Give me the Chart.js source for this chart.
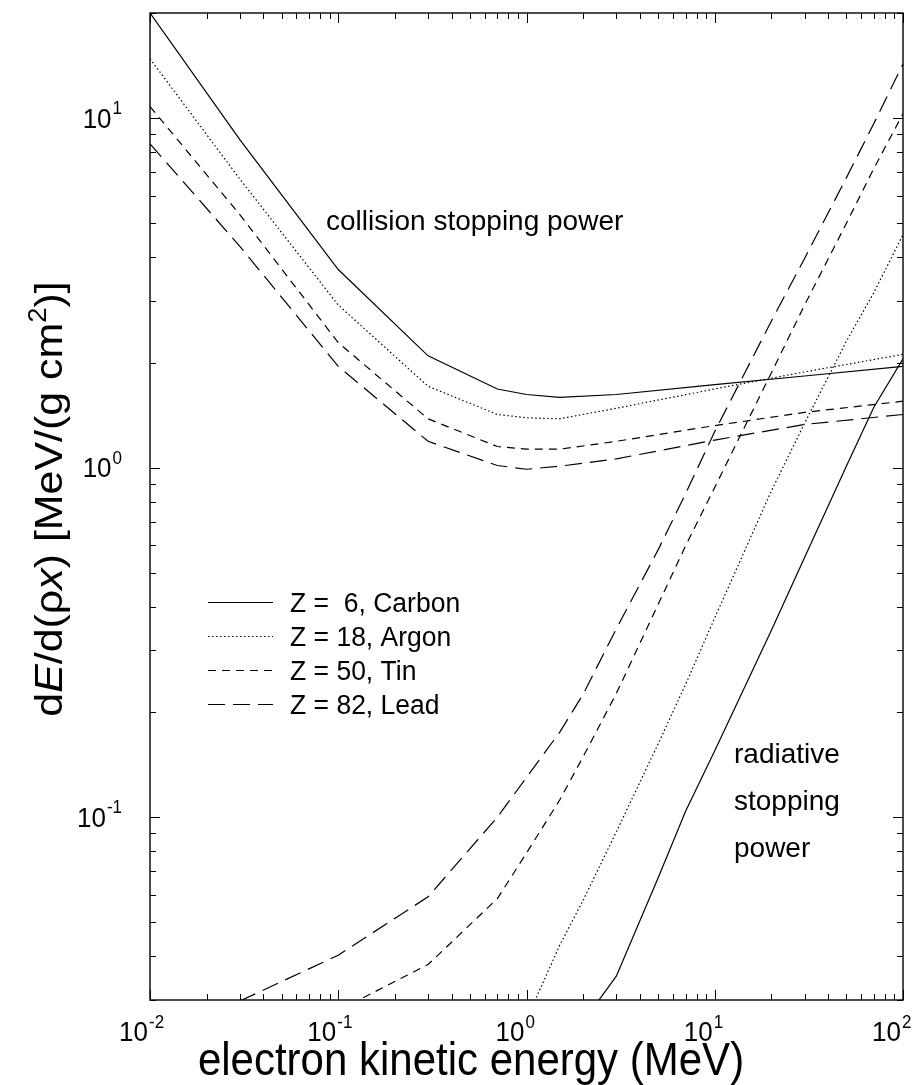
<!DOCTYPE html>
<html>
<head>
<meta charset="utf-8">
<script src="https://cdn.jsdelivr.net/npm/chart.js@4.4.1/dist/chart.umd.min.js"></script>
<style>
  html, body { margin: 0; padding: 0; background: #fff; }
  canvas { display: block; }
</style>
</head>
<body>
<canvas id="chart" width="921" height="1085"></canvas>
<script>
// energies in MeV
var collisionEnergy = [0.01, 0.03, 0.1, 0.3, 0.7, 1, 1.5, 3, 10, 30, 100];
var carbonCollision = [20.0, 8.68, 3.69, 2.09, 1.68, 1.62, 1.59, 1.62, 1.73, 1.83, 1.95];
var argonCollision  = [14.8, 6.7, 2.92, 1.71, 1.42, 1.39, 1.38, 1.48, 1.68, 1.88, 2.11];
var tinCollision    = [10.8, 5.3, 2.28, 1.38, 1.15, 1.13, 1.13, 1.19, 1.32, 1.44, 1.55];
var leadCollision   = [8.45, 4.3, 1.95, 1.19, 1.015, 0.99, 1.01, 1.06, 1.20, 1.33, 1.42];

var radiativeEnergy = [0.03, 0.1, 0.3, 0.7, 1, 1.5, 2, 3, 5, 7, 10, 20, 30, 50, 70, 100];
var carbonRadiative = [null, null, null, null, null, null, 0.026, 0.0351, 0.067, 0.104, 0.155, 0.343, 0.554, 1.01, 1.49, 2.05];
var argonRadiative  = [null, null, null, null, 0.0264, 0.043, 0.0579, 0.0908, 0.162, 0.240, 0.372, 0.859, 1.34, 2.30, 3.17, 4.64];
var tinRadiative    = [null, 0.028, 0.0379, 0.0585, 0.079, 0.112, 0.149, 0.226, 0.406, 0.598, 0.879, 1.87, 2.92, 5.0, 7.18, 10.3];
var leadRadiative   = [0.0298, 0.0403, 0.0592, 0.100, 0.13, 0.175, 0.225, 0.346, 0.582, 0.843, 1.27, 2.63, 3.97, 6.75, 9.66, 14.3];

var legendLabels = ['Z =  6, Carbon', 'Z = 18, Argon', 'Z = 50, Tin', 'Z = 82, Lead'];
var lineDashes = [[], [1.5, 2.5], [8, 6], [17, 8]];
var xDecades = [-2, -1, 0, 1, 2];
var yDecades = [-1, 0, 1];

var FONT = '"Liberation Sans", Arial, Helvetica, sans-serif';

function pairs(xs, ys) {
  return xs.map(function (x, i) { return { x: x, y: ys[i] }; });
}

function curve(xs, ys, idx) {
  return {
    data: pairs(xs, ys),
    borderColor: '#000',
    borderWidth: 1.2,
    borderDash: lineDashes[idx],
    pointRadius: 0,
    tension: 0,
    fill: false
  };
}

function txt(ctx, s, x, y, size, align, stretch) {
  ctx.save();
  ctx.translate(x, y);
  ctx.scale(1, stretch || 1);
  ctx.font = size + 'px ' + FONT;
  ctx.textAlign = align || 'left';
  ctx.textBaseline = 'alphabetic';
  ctx.fillStyle = '#000';
  ctx.fillText(s, 0, 0);
  ctx.restore();
}

function textWidth(ctx, s, size, style) {
  ctx.save();
  ctx.font = (style ? style + ' ' : '') + size + 'px ' + FONT;
  var w = ctx.measureText(s).width;
  ctx.restore();
  return w;
}

var decor = {
  id: 'decor',
  afterDraw: function (chart) {
    var ctx = chart.ctx, a = chart.chartArea;
    var xs = chart.scales.x, ys = chart.scales.y;
    ctx.save();

    // frame
    ctx.strokeStyle = '#000';
    ctx.lineWidth = 1.4;
    ctx.strokeRect(a.left, a.top, a.right - a.left, a.bottom - a.top);

    // inward ticks on all four sides
    ctx.lineWidth = 1;
    ctx.beginPath();
    for (var e = -3; e <= 2; e++) {
      for (var m = 1; m <= 9; m++) {
        var v = m * Math.pow(10, e);
        var len = m === 1 ? 10 : 6;
        if (v >= 0.01 - 1e-9 && v <= 100 + 1e-9) {
          var px = Math.round(xs.getPixelForValue(v)) + 0.5;
          ctx.moveTo(px, a.bottom); ctx.lineTo(px, a.bottom - len);
          ctx.moveTo(px, a.top); ctx.lineTo(px, a.top + len);
        }
        if (v >= 0.03 - 1e-9 && v <= 20 + 1e-9) {
          var py = Math.round(ys.getPixelForValue(v)) + 0.5;
          ctx.moveTo(a.left, py); ctx.lineTo(a.left + len, py);
          ctx.moveTo(a.right, py); ctx.lineTo(a.right - len, py);
        }
      }
    }
    ctx.stroke();

    // x tick labels 10^n
    xDecades.forEach(function (d) {
      var px = xs.getPixelForValue(Math.pow(10, d));
      txt(ctx, '10', px - 2, 1041, 26, 'right', 1.05);
      txt(ctx, String(d), px - 1, 1028, 17, 'left', 1.05);
    });
    // y tick labels
    yDecades.forEach(function (d) {
      var py = ys.getPixelForValue(Math.pow(10, d));
      var sw = textWidth(ctx, String(d), 17);
      txt(ctx, String(d), 122, py - 4, 17, 'right', 1.05);
      txt(ctx, '10', 122 - sw - 1, py + 9.5, 26, 'right', 1.05);
    });

    // axis titles
    txt(ctx, 'electron kinetic energy (MeV)', 471, 1075, 42, 'center', 1.08);

    var parts = [
      { t: 'd' }, { t: 'E', st: 'italic' }, { t: '/d(\u03c1' }, { t: 'x', st: 'italic' },
      { t: ') [MeV/(g cm' }, { t: '2', sup: true }, { t: ')]' }
    ];
    var big = 39, small = 25, total = 0;
    parts.forEach(function (p) {
      p.w = textWidth(ctx, p.t, p.sup ? small : big, p.st);
      total += p.w;
    });
    ctx.save();
    ctx.translate(62, 499);
    ctx.rotate(-Math.PI / 2);
    ctx.scale(1.1, 1);
    ctx.fillStyle = '#000';
    ctx.textBaseline = 'alphabetic';
    var cx = -total / 2;
    parts.forEach(function (p) {
      ctx.font = (p.st ? p.st + ' ' : '') + (p.sup ? small : big) + 'px ' + FONT;
      ctx.fillText(p.t, cx, p.sup ? -16 : 0);
      cx += p.w;
    });
    ctx.restore();

    // annotations
    txt(ctx, 'collision stopping power', 326, 230, 28, 'left');
    txt(ctx, 'radiative', 734, 763, 28, 'left');
    txt(ctx, 'stopping', 734, 810, 28, 'left');
    txt(ctx, 'power', 734, 857, 28, 'left');

    // legend
    var rowY = [602, 636, 670, 704];
    legendLabels.forEach(function (lab, i) {
      ctx.save();
      ctx.strokeStyle = '#000';
      ctx.lineWidth = 1.2;
      ctx.setLineDash(lineDashes[i]);
      ctx.beginPath();
      ctx.moveTo(208, rowY[i] + 0.5);
      ctx.lineTo(273, rowY[i] + 0.5);
      ctx.stroke();
      ctx.restore();
      txt(ctx, lab, 290, rowY[i] + 10, 26.5, 'left', 1.05);
    });

    ctx.restore();
  }
};

new Chart(document.getElementById('chart'), {
  type: 'line',
  data: {
    datasets: [
      curve(collisionEnergy, carbonCollision, 0),
      curve(collisionEnergy, argonCollision, 1),
      curve(collisionEnergy, tinCollision, 2),
      curve(collisionEnergy, leadCollision, 3),
      curve(radiativeEnergy, carbonRadiative, 0),
      curve(radiativeEnergy, argonRadiative, 1),
      curve(radiativeEnergy, tinRadiative, 2),
      curve(radiativeEnergy, leadRadiative, 3)
    ]
  },
  options: {
    responsive: false,
    animation: false,
    devicePixelRatio: 1,
    layout: { padding: { left: 150, top: 13, right: 18, bottom: 85 } },
    plugins: { legend: { display: false }, tooltip: { enabled: false } },
    scales: {
      x: { type: 'logarithmic', min: 0.01, max: 100, display: false },
      y: { type: 'logarithmic', min: 0.03, max: 20, display: false }
    }
  },
  plugins: [decor]
});
</script>
</body>
</html>
